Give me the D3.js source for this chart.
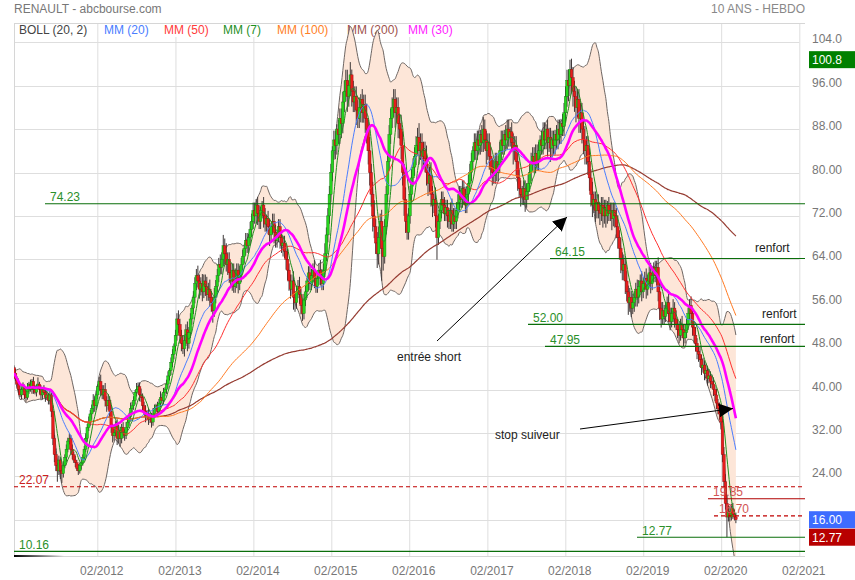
<!DOCTYPE html>
<html><head><meta charset="utf-8">
<script src="https://cdn.jsdelivr.net/npm/d3@7"></script>
<style>
body{margin:0;background:#fff;}
svg{display:block;font-family:Arial,"Liberation Sans",sans-serif;}
</style></head><body>
<svg id="c" width="855" height="580"></svg>
<script>
// ---------------- DATA (weekly) ----------------
const firstWeek = new Date(2011, 0, 7);
const firstOpen = 44;
const closes = [
43,42,41,40,39,40,40.5,39,38.5,40,
41,40,41.5,40,39.5,40.5,41,40,39,40,
39.5,38.5,39,38,39,36,31,28,26,25,
27,25,24.5,26,27.5,29,30.5,31,29,28,
27,26.5,25.5,25,26,26.5,27.5,29,31,33,
34,35.5,36.5,38,37,39,40.5,41.5,40,39,
40,38,37,38,36,33,31.5,32,33.5,31,
32.5,31,33,32,31.5,33,34,35,36.5,37,
38,39.5,40,40.5,39,38.5,37,36,35,35.5,
34.5,35,34,35.5,36.5,37,36,37.5,38.5,38,
39.5,40,41,42.5,43.5,45,46.5,48,50,53,
52,50,48.5,47.5,49,51,48.5,50.5,53,55,
57,59.5,61,60,58.5,59.5,58,60,59,57.5,
58.5,57,56,54.5,57,59,61,63,62.5,64,
66.5,65,63,64,61.5,60,62,59,60.5,62,
59.5,61,63,64.5,66,67.5,66.5,68,69.5,71,
73,72,74,72.5,71,73,74,72,70.5,71.5,
70,68.5,70,71,69,67.5,68.5,70,68,66.5,
67,65.5,64,62,60,58.5,60,57,56,58,
59,57.5,55.5,54,56.5,58,60,61.5,59.5,61,
62,60.5,59,60.5,62,61,59.5,62,65,68.5,
72,76,80,84,86,85,88,87,90,89,
93,95,97,94,96,98,95,93,94,91.5,
90,92,93.5,91,92.5,90,88,84,80,76,
72,70,67,65,68,71,66,64.5,70,76,
82,87,90,92,93.5,91,92,89,88,85,
80,75,71,69,72,76,79,81,83,85,
86.5,84,85.5,83,84,82.5,80,78,79.5,76,
74,75,72,68,71,73,75,74,72.5,73.5,
72,71,73,70.5,72,71,73,74.5,76,75,
77,75.5,74,76,78,80,82,84,85.5,84,
86,85,87,85.5,88,86,84,85.5,83,81,
80,79.5,82,80,81.5,84,86,85,87,86,
88,86.5,87.5,85.5,84,85,82,79,77,76,
75.5,77,75,76.5,78,80,82,83,81.5,83.5,
82,84,86,85,87.5,86,88,85.5,86.5,84.5,
86,85,87,86,88,87,89,88.5,91,94,
97,96,99,97.5,95,94,92,93.5,90,91,
88,86,84,85,82,79,76,74,75,73,
74.5,73,72.5,74,72,73.5,72,74,72.5,73,
71.5,73,72,70,68,66,64,62,63,60,
58,56,57,55,56,57,58.5,57,59,60,
58,59.5,60.5,58.5,60,61.5,59.5,61,62.5,61,
62.5,58,55,53,54.5,53.5,55,56,54,52.5,
54,55,53,52,51,50,52,51,49.5,50.5,
52,54,55.5,54,51.5,50,48.5,47,46.5,45.5,
44,44.5,43,43.5,42,42.5,41.5,41,40,39,
37.5,36.5,35.5,34,28,23,19,16.5,17.5,16.5,
18,17,16.5,16
];
// upper / lower shadow length, in % of the body edge
const upWick = [
1,2,1,2,3,1,2,1,2,3, 1,2,1,2,2,1,3,1,2,1, 2,1,2,1,2,1,3,2,4,2, 3,2,4,3,2,3,2,3,2,3,
2,3,2,3,2,3,2,2,3,2, 3,2,2,3,2,2,1,2,3,2, 2,3,2,3,2,3,2,4,2,3, 3,2,2,3,2,3,2,2,3,2,
2,1,3,2,2,3,2,2,3,2, 3,2,2,3,2,1,2,2,3,2, 2,1,2,2,1,2,2,1,2,2, 3,2,2,3,2,2,3,2,2,1,
2,2,2,3,2,2,3,2,2,3, 2,3,2,2,3,2,2,2,3,2, 3,2,3,2,2,3,2,2,3,2, 2,3,2,2,1,2,2,1,2,2,
2,2,1.5,2,2,1,1,2,2,1, 2,2,1,2,2,2,1,2,2,1, 2,2,2,3,2,2,2,3,2,2, 2,3,2,2,2,2,1,2,2,2,
2,3,2,2,2,3,2,2,3,2, 2,2,2,1,2,2,1,2,2,2, 2,2,2,2,1,2.4,1,2,2,2, 2,2,1,2,2,2,3,2,3,2,
3,4,2,3,3,2,3,2,2,2, 2,2,2,2,2,2,2,2,2,3, 3,2,3,2,2,2,2,2,2,2, 2,3,2,2,2,2,3,2,2,3,
2,2,3,3,2,2,2,2,2,2, 2,2,2,3,2,2,2,2,2,2, 2,2,2,2,2,2,2,1,2,2, 2,2,1,2,2.5,2,2,2,2,2,
2,3,2,2,2,2,2,2,1,2, 2,2,1,2,2,2,2,2,2,2, 2,2,2,2,2,2,2,2,2,2, 2,2,1,2,2,2,1,2,2,2,
2,2,1,2,2,2,1,2,2,2, 2,2,1.8,2,2,2,2,2,2,2, 2,2,3,2,2,3,2,3,2,2, 2,2,2,2,2,2,2,1,2,2,
2,2,2,2,3,2,3,2,3,2, 3,2,3,2,3,2,2,3,2,2, 3,2,2,3,2,2,3,2,1.5,2, 2,3,3,2,3,2,2,2,3,2,
2,3,2,3,2,3,2,3,2,3, 2,2,2,3,2,2,3,2,2,3, 2,3,2,3,2,3,2,3,3,2, 3,2,3,4,4,5,6,8,7,6,
5,6,5,5
];
const downWick = [
2,1,2,2,1,2,1,2,2,1, 2,1,2,2,1,2,1,2,2,2, 1,2,1,2,2,3,4,5,4,8, 3,6,7,3,2,3,2,2,3,3,
2,3,2,3,2,3,2,2,2,2, 2,2,3,2,3,2,2,2,3,2, 2,3,3,2,3,3,4,3,2,4, 3,5,3,3,3,2,2,2,2,2,
2,2,2,2,3,2,3,2,3,2, 3,2,3,2,2,2,3,2,2,2, 2,2,2,2,2,2,2,2,2,2, 3,3,3,2,3,2,3,2,2,2,
2,2,2,2,3,2,3,2,3,2, 2,3,3,4,2,2,2,2,2,2, 2,3,2,3,3,2,3,2,2,3, 3,2,2,2,2,2,2,2,2,2,
2,2,2,3,2,2,2,3,2,2, 2,3,2,2,3,2,2,2,3,2, 3,2,3,3,3,3,2,4,3,2, 2,3,3,2.5,2,2,2,3,2,2,
2,3,2,2,2,3,2,2,2,2, 2,2,2,2,2,3,2,2,2,3, 2,2,2,3,2,2,3,2,2,3, 2,2,3,2,2,3,3,3,3,3,
4,3,3,4,3,3,9,4,2,2, 2,2,2,2,2,3,2,3,2,3, 3,4,3,2,2,2,2,2,2,2, 2,3,2,3,2,3,3,3,2,3,
3,2,3,6,2,2,2,2,2,2, 3,2,2,2,2,2,2,2,2,2, 2,2,2,2,2,2,2,2,2,2, 2,2,2,2,2,2,3,2,3,2,
3,2,2,2,2,2,2,2,2,2, 2,2,2,2,3,2,3,3,2,3, 2,2,3,2,2,2,2,2,2,2, 2,2,2,2,2,2,2,3,2,3,
2,2,2,2,2,2,2,2,2,2, 2,3,2,3,3,3,3,2,3,3, 3,3,3,3,3,3,3,3,2,3, 2,2,3,2,3,2,3,2,2,2,
3,2,3,3,3,3,4,3,3,4, 3,4,3,3,2,3,3,3,2,2, 3,2,2,3,2,2,3,2,2,2, 3,3,4,3,2,3,2,2,3,3,
2,3,3,2,3,3,2,3,3,2, 2,2,2,3,3,3,3,3,3,3, 3,2,3,2,3,2,3,2,3,3, 3,3,3,4,5,5,6,22.6,5,5,
4,5,4,4
];
const yTickValues = [24,32,40,48,56,64,72,80,88,96,104];
const yGridValues = [16,24,32,40,48,56,64,72,80,88,96,104];
const xTickYears = [2012,2013,2014,2015,2016,2017,2018,2019,2020,2021];
const levelValues = [74.23, 64.15, 52.00, 47.95, 22.07, 19.85, 16.70, 12.77, 10.16];
const levelLabels = ["74.23","64.15","52.00","47.95","22.07","19.85","16.70","12.77","10.16"];
const badgeValues = [100.8, 16.00, 12.77];
const badgeLabels = ["100.8","16.00","12.77"];
const legendLabels = ["BOLL (20, 2)","MM (20)","MM (50)","MM (7)","MM (100)","MM (200)","MM (30)"];
const maPeriods = [20, 50, 7, 100, 200, 30];
const bollPeriod = 20, bollK = 2;

// ---------------- LAYOUT / STYLE ----------------
const W = 855, H = 580;
const plot = {left: 14, right: 805, top: 23, bottom: 556};
const maColors = ["#4a7dff", "#ff3030", "#1f8f1f", "#ff7a22", "#963c32", "#ff00ff"];
const maWidths = [1, 1, 1, 1, 1.2, 2.6];
const legendColors = ["#444", "#4a7dff", "#ff3b3b", "#1f8f1f", "#ff7f27", "#a0524d", "#ff22ff"];
const legendX = [19, 104, 164, 223, 277, 347, 408];
const levelStyle = [
  {x0: 45,  stroke: "#0a6e0a", dash: null,  text: "#2a8f2a"},
  {x0: 550, stroke: "#0a6e0a", dash: null,  text: "#2a8f2a"},
  {x0: 528, stroke: "#0a6e0a", dash: null,  text: "#2a8f2a"},
  {x0: 545, stroke: "#0a6e0a", dash: null,  text: "#2a8f2a"},
  {x0: 14,  stroke: "#c00000", dash: "4,3", text: "#cc2020"},
  {x0: 708, stroke: "#b00000", dash: null,  text: "#d25555"},
  {x0: 714, stroke: "#c00000", dash: "4,3", text: "#d25555"},
  {x0: 637, stroke: "#0a6e0a", dash: null,  text: "#2a8f2a"},
  {x0: 14,  stroke: "#0a6e0a", dash: null,  text: "#2a8f2a"}
];
const badgeFill = ["#008000", "#3d6cff", "#b80000"];

// ---------------- SCALES ----------------
const x = d3.scaleTime()
  .domain([new Date(2012, 1, 1), new Date(2021, 1, 1)])
  .range([97.3, 799.3]);
const y = d3.scaleLinear().domain([16, 104]).range([519.7, 42.3]);

const n = closes.length;
const dates = closes.map((_, i) => d3.timeDay.offset(firstWeek, 7 * i));
const opens = closes.map((c, i) => i === 0 ? firstOpen : closes[i - 1]);
const highs = closes.map((c, i) => Math.max(c, opens[i]) * (1 + (upWick[i] || 0) / 100));
const lows  = closes.map((c, i) => Math.min(c, opens[i]) * (1 - (downWick[i] || 0) / 100));

function sma(p) {
  return closes.map((_, i) => d3.mean(closes.slice(Math.max(0, i - p + 1), i + 1)));
}
const mid = sma(bollPeriod);
const sd = closes.map((_, i) => {
  const w = closes.slice(Math.max(0, i - bollPeriod + 1), i + 1);
  const m = d3.mean(w);
  return Math.sqrt(d3.mean(w, v => (v - m) * (v - m)));
});
const upper = mid.map((m, i) => m + bollK * sd[i]);
const lower = mid.map((m, i) => m - bollK * sd[i]);

// ---------------- DRAW ----------------
const svg = d3.select("#c");
svg.append("rect").attr("width", W).attr("height", H).attr("fill", "#fff");

const defs = svg.append("defs");
defs.append("clipPath").attr("id", "clip").append("rect")
  .attr("x", plot.left).attr("y", plot.top)
  .attr("width", plot.right - plot.left).attr("height", plot.bottom - plot.top);
const grad = defs.append("linearGradient").attr("id", "fade");
grad.append("stop").attr("offset", "0%").attr("stop-color", "#000");
grad.append("stop").attr("offset", "100%").attr("stop-color", "#000").attr("stop-opacity", 0);
defs.append("marker").attr("id", "arrow").attr("viewBox", "0 0 10 10")
  .attr("refX", 10).attr("refY", 5).attr("markerWidth", 14).attr("markerHeight", 14)
  .attr("markerUnits", "userSpaceOnUse").attr("orient", "auto")
  .append("path").attr("d", "M0,0 L10,5 L0,10 z").attr("fill", "#000");

// title
svg.append("text").attr("x", 14).attr("y", 12.5).attr("font-size", 12).attr("fill", "#777")
  .text("RENAULT - abcbourse.com");
svg.append("text").attr("x", 805).attr("y", 12.5).attr("font-size", 12).attr("fill", "#888")
  .attr("text-anchor", "end").text("10 ANS - HEBDO");

// grid
const gGrid = svg.append("g");
gGrid.selectAll("line.h").data(yGridValues).join("line")
  .attr("x1", plot.left).attr("x2", 799.3)
  .attr("y1", d => Math.round(y(d)) + 0.5).attr("y2", d => Math.round(y(d)) + 0.5)
  .attr("stroke", "#dedede");
gGrid.append("g").attr("transform", `translate(0,${plot.bottom})`)
  .call(d3.axisBottom(x).tickValues(xTickYears.map(yr => new Date(yr, 1, 1)))
    .tickSize(-(plot.bottom - plot.top)).tickFormat(""))
  .call(g => g.select(".domain").remove())
  .call(g => g.selectAll(".tick line").attr("stroke", "#dedede"));
// frame
gGrid.append("line").attr("x1", plot.left).attr("x2", plot.right).attr("y1", plot.top + 0.5).attr("y2", plot.top + 0.5).attr("stroke", "#d6d6d6");
gGrid.append("line").attr("x1", plot.left + 0.5).attr("x2", plot.left + 0.5).attr("y1", plot.top).attr("y2", plot.bottom).attr("stroke", "#d6d6d6");
gGrid.append("line").attr("x1", plot.left).attr("x2", plot.right).attr("y1", plot.bottom + 0.5).attr("y2", plot.bottom + 0.5).attr("stroke", "#d6d6d6");
gGrid.append("rect").attr("x", plot.left).attr("y", plot.bottom - 1).attr("width", 50).attr("height", 2).attr("fill", "url(#fade)");

// legend (white backgrounds hide the grid)
const gLeg = svg.append("g").attr("font-size", 12);
legendLabels.forEach((t, i) => {
  const tx = gLeg.append("text").attr("x", legendX[i]).attr("y", 33.5).attr("fill", legendColors[i]).text(t);
  const bb = tx.node().getBBox();
  gLeg.insert("rect", "text").attr("x", bb.x - 3).attr("y", plot.top + 1).attr("width", bb.width + 6)
    .attr("height", 13).attr("fill", "#fff");
});

const gPlot = svg.append("g").attr("clip-path", "url(#clip)");

// Bollinger band
const idx = d3.range(n);
gPlot.append("path").datum(idx)
  .attr("d", d3.area().x(i => x(dates[i])).y0(i => y(lower[i])).y1(i => y(upper[i])).curve(d3.curveMonotoneX))
  .attr("fill", "#fde6d8");
[upper, lower].forEach(arr => {
  gPlot.append("path").datum(idx)
    .attr("d", d3.line().x(i => x(dates[i])).y(i => y(arr[i])).curve(d3.curveMonotoneX))
    .attr("fill", "none").attr("stroke", "#6e6663").attr("stroke-width", 1);
});

// level lines
const gLev = svg.append("g");
levelValues.forEach((v, i) => {
  const s = levelStyle[i];
  gLev.append("line").attr("x1", s.x0).attr("x2", plot.right)
    .attr("y1", y(v)).attr("y2", y(v)).attr("stroke", s.stroke).attr("stroke-width", 1.1)
    .attr("stroke-dasharray", s.dash);
  gLev.append("text").attr("x", s.x0 + 5).attr("y", y(v) - 2.5).attr("font-size", 12)
    .attr("fill", s.text).text(levelLabels[i]);
});

// candles
const cw = 2.6;
gPlot.append("g").selectAll("line").data(idx).join("line")
  .attr("x1", i => x(dates[i])).attr("x2", i => x(dates[i]))
  .attr("y1", i => y(highs[i])).attr("y2", i => y(lows[i]))
  .attr("stroke", "#3e3838").attr("stroke-width", 1);
gPlot.append("g").selectAll("rect").data(idx).join("rect")
  .attr("x", i => x(dates[i]) - cw / 2).attr("width", cw)
  .attr("y", i => y(Math.max(opens[i], closes[i])))
  .attr("height", i => Math.max(0.8, Math.abs(y(opens[i]) - y(closes[i]))))
  .attr("fill", i => closes[i] >= opens[i] ? "#26d41e" : "#e81c1c")
  .attr("stroke", i => closes[i] >= opens[i] ? "#1a7a14" : "#8e1212")
  .attr("stroke-width", 0.4);

// moving averages (draw MM200,100,50,20,7,30 order)
const maOrder = [4, 3, 1, 0, 2, 5];
maOrder.forEach(k => {
  const arr = sma(maPeriods[k]);
  gPlot.append("path").datum(idx)
    .attr("d", d3.line().x(i => x(dates[i])).y(i => y(arr[i])).curve(d3.curveMonotoneX))
    .attr("fill", "none").attr("stroke", maColors[k]).attr("stroke-width", maWidths[k]);
});

// annotations
const gAnn = svg.append("g").attr("font-size", 12).attr("fill", "#222");
gAnn.append("text").attr("x", 397).attr("y", 361).text("entrée short");
gAnn.append("text").attr("x", 495).attr("y", 439).text("stop suiveur");
gAnn.append("text").attr("x", 755).attr("y", 252).text("renfort");
gAnn.append("text").attr("x", 762).attr("y", 318).text("renfort");
gAnn.append("text").attr("x", 760).attr("y", 343).text("renfort");
gAnn.append("line").attr("x1", 437).attr("y1", 341).attr("x2", 567).attr("y2", 217)
  .attr("stroke", "#000").attr("stroke-width", 1).attr("marker-end", "url(#arrow)");
gAnn.append("line").attr("x1", 580).attr("y1", 429).attr("x2", 733).attr("y2", 408.5)
  .attr("stroke", "#000").attr("stroke-width", 1).attr("marker-end", "url(#arrow)");

// axes labels
svg.append("g").attr("transform", `translate(0,${plot.bottom})`)
  .call(d3.axisBottom(x).tickValues(xTickYears.map(yr => new Date(yr, 1, 1)))
    .tickFormat(d3.timeFormat("%m/%Y")).tickSize(0).tickPadding(10.5))
  .call(g => g.select(".domain").remove())
  .call(g => g.selectAll("text").attr("font-size", 12).attr("fill", "#777").attr("dx", 4)
    .attr("font-family", "Arial, 'Liberation Sans', sans-serif"));
svg.append("g").attr("transform", `translate(${plot.right},0)`)
  .call(d3.axisRight(y).tickValues(yTickValues)
    .tickFormat(v => v >= 100 ? v.toFixed(1) : v.toFixed(2)).tickSize(0).tickPadding(7))
  .call(g => g.select(".domain").remove())
  .call(g => g.selectAll("text").attr("font-size", 12).attr("fill", "#777").attr("dy", "0.05em")
    .attr("font-family", "Arial, 'Liberation Sans', sans-serif"));

// value badges
badgeValues.forEach((v, i) => {
  svg.append("rect").attr("x", 809).attr("y", y(v) - 8.5).attr("width", 46).attr("height", 17)
    .attr("fill", badgeFill[i]);
  svg.append("text").attr("x", 812).attr("y", y(v) + 4.5).attr("font-size", 12)
    .attr("fill", "#fff").text(badgeLabels[i]);
});
</script>
</body></html>
